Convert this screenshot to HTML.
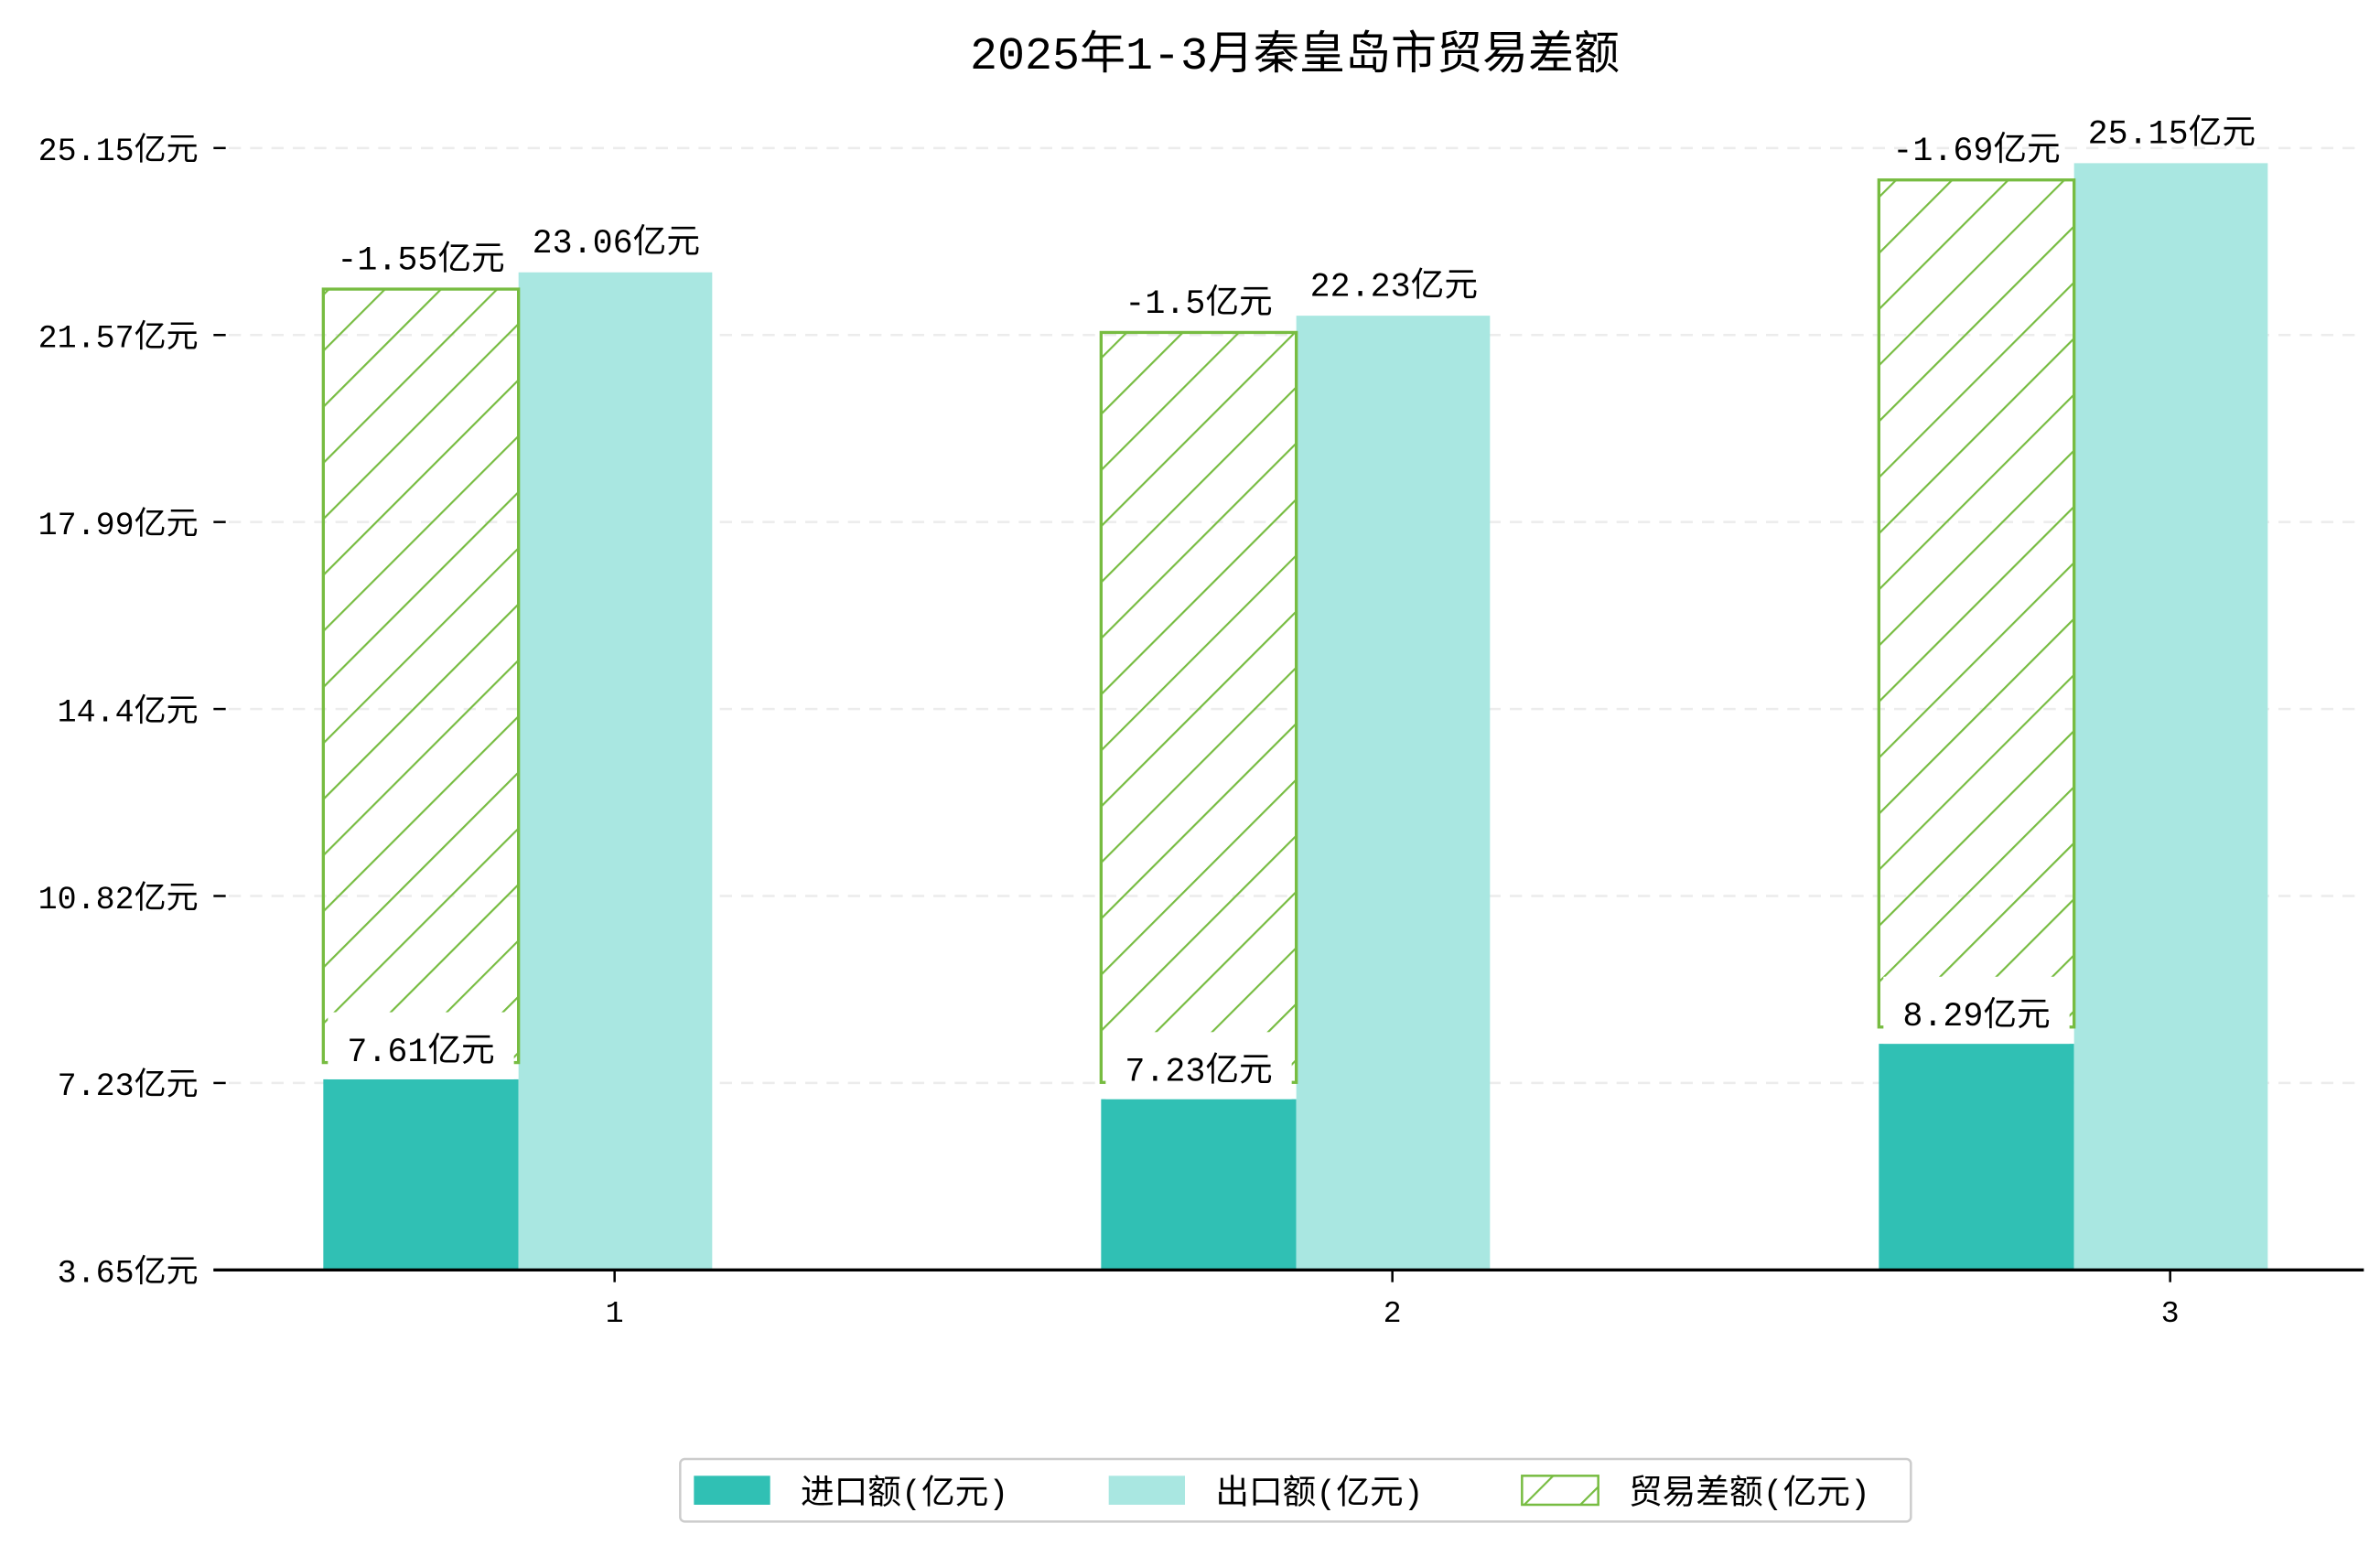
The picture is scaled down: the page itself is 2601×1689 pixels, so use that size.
<!DOCTYPE html>
<html><head><meta charset="utf-8"><style>
html,body{margin:0;padding:0;background:#fff;}
svg{display:block;font-family:"Liberation Mono","Noto Sans CJK SC",monospace;}
</style></head><body>
<svg id="chart" width="2601" height="1689" viewBox="0 0 1560.6 1013.4" xmlns="http://www.w3.org/2000/svg">
<defs>
<pattern id="hatch" patternUnits="userSpaceOnUse" width="26" height="26" patternTransform="rotate(45)">
<line x1="0" y1="0" x2="0" y2="26" stroke="#77bc41" stroke-width="2.6"/>
</pattern>
</defs>
<text x="849" y="45" font-size="30" text-anchor="middle" fill="#000">2025年1-3月秦皇岛市贸易差额</text>
<g id="grid"></g><g id="bars"></g><g id="axes"></g><g id="labels"></g>
<g>
<rect x="446" y="957" width="807" height="41" fill="#fff" stroke="#ccc" stroke-width="1.5" rx="3"/>
<rect x="455" y="968" width="50" height="19" fill="#30c0b4"/>
<text x="525" y="986" font-size="22">进口额(亿元)</text>
<rect x="727" y="968" width="50" height="19" fill="#a9e7e1"/>
<text x="797" y="986" font-size="22">出口额(亿元)</text>
<rect x="998" y="968" width="50" height="19" fill="url(#hatch)" stroke="#77bc41" stroke-width="1.5"/>
<text x="1068" y="986" font-size="22">贸易差额(亿元)</text>
</g>
</svg>
<script>
const categories = ["1", "2", "3"];
const importVals = [7.61, 7.23, 8.29];
const exportVals = [23.06, 22.23, 25.15];
const balanceVals = [-1.55, -1.5, -1.69];
const tickLabels = ["3.65亿元", "7.23亿元", "10.82亿元", "14.4亿元", "17.99亿元", "21.57亿元", "25.15亿元"];

const NS = "http://www.w3.org/2000/svg";
const base = 833, yMin = 3.96, pxPer = 34.26;
function y(v){ return base - (v - yMin) * pxPer; }
const x0 = 403, step = 510, bw = 128;
function xc(i){ return x0 + i * step; }
function mk(tag, attrs, parent, txt){
  const e = document.createElementNS(NS, tag);
  for (const k in attrs) e.setAttribute(k, attrs[k]);
  if (txt !== undefined) e.textContent = txt;
  parent.appendChild(e); return e;
}
const grid = document.getElementById("grid"), bars = document.getElementById("bars"),
      axes = document.getElementById("axes"), labels = document.getElementById("labels");
const axTop = y(25.44);
tickLabels.forEach((t, i) => {
  const ty = base - i * (base - axTop) / (tickLabels.length - 1);
  if (i > 0) {
    const g = mk("line", {x1:150, x2:1550, y1:ty, y2:ty, stroke:"#ececec", "stroke-width":1.5, "stroke-dasharray":"8,6"}, grid);
    
    
  }
  const tk = mk("line", {x1:140, x2:148, y1:ty, y2:ty, stroke:"#000", "stroke-width":1.5}, axes);
  
  
  const tl = mk("text", {x:130, y:ty + 8, "font-size":21, "text-anchor":"end"}, axes, t);
  
  
});
const spine = mk("line", {x1:140, x2:1550, y1:base, y2:base, stroke:"#000", "stroke-width":2}, axes);


categories.forEach((c, i) => {
  const cx = xc(i);
  const ex = cx - 63, ix = cx - 191;
  const ib = mk("rect", {x:ix, y:y(importVals[i]), width:bw, height:base - y(importVals[i]), fill:"#30c0b4"}, bars);
  
  
  const eb = mk("rect", {x:ex, y:y(exportVals[i]), width:bw - 1, height:base - y(exportVals[i]), fill:"#a9e7e1"}, bars);
  
  
  const hTop = y(exportVals[i]) + 11, hBot = y(importVals[i]) - 11;
  const hb = mk("rect", {x:ix, y:hTop, width:bw, height:hBot - hTop, fill:"url(#hatch)", stroke:"#77bc41", "stroke-width":2}, bars);
  
  
  const box = mk("rect", {x:ix + 3, y:y(importVals[i]) - 44, width:bw - 6, height:44, fill:"#fff"}, labels);
  
  
  const il = mk("text", {x:ix + bw/2, y:y(importVals[i]) - 12, "font-size":22, "text-anchor":"middle"}, labels, importVals[i] + "亿元");
  
  
  const el = mk("text", {x:ex + bw/2, y:y(exportVals[i]) - 13, "font-size":22, "text-anchor":"middle"}, labels, exportVals[i] + "亿元");
  
  
  const bl = mk("text", {x:ix + bw/2, y:hTop - 13, "font-size":22, "text-anchor":"middle"}, labels, balanceVals[i] + "亿元");
  
  
  const xt = mk("line", {x1:cx, x2:cx, y1:base, y2:base + 8, stroke:"#000", "stroke-width":1.5}, axes);
  
  
  const xl = mk("text", {x:cx, y:base + 34, "font-size":20, "text-anchor":"middle"}, axes, c);
  
  
});
</script>
</body></html>
